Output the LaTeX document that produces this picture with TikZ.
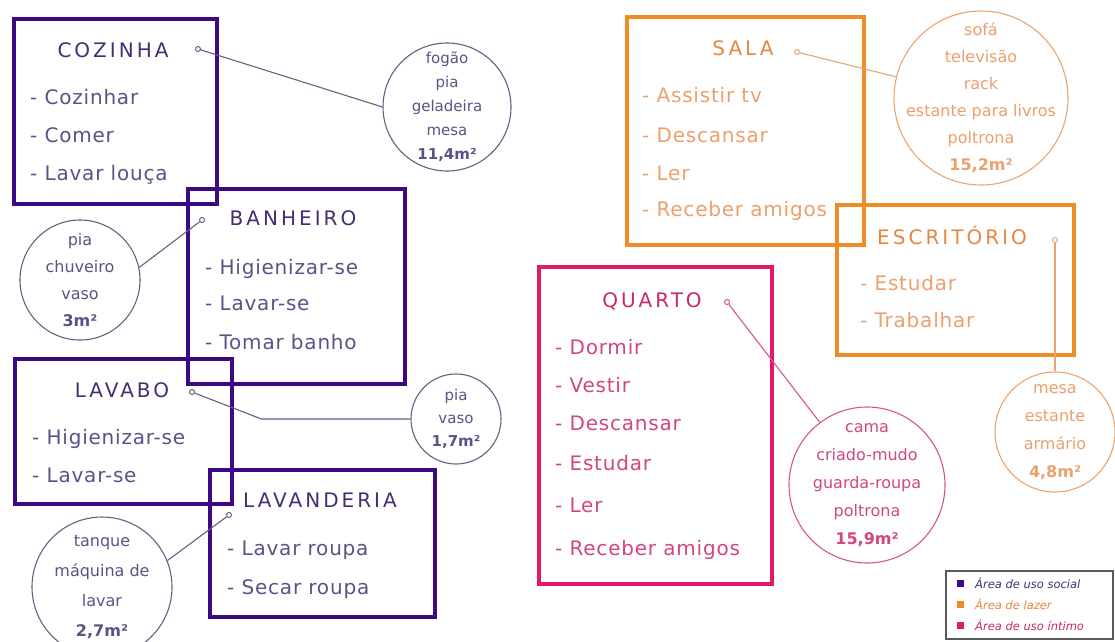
\documentclass[tikz,border=0pt]{standalone}
\usepackage{fontspec}
\setmainfont{DejaVu Sans}
\newfontfamily\ttlfont{DejaVu Sans}[LetterSpace=15]
\newfontfamily\itmfont{DejaVu Sans}[LetterSpace=4]
\usetikzlibrary{calc}
\definecolor{pbox}{RGB}{60,10,130}
\definecolor{ptitle}{RGB}{70,45,115}
\definecolor{pitem}{RGB}{95,80,135}
\definecolor{pline}{RGB}{105,95,130}
\definecolor{obox}{RGB}{240,140,40}
\definecolor{otitle}{RGB}{230,135,65}
\definecolor{oitem}{RGB}{236,160,110}
\definecolor{oline}{RGB}{236,165,110}
\definecolor{kbox}{RGB}{225,25,105}
\definecolor{ktitle}{RGB}{200,40,110}
\definecolor{kitem}{RGB}{210,70,130}
\definecolor{kline}{RGB}{215,85,140}
\definecolor{legline}{RGB}{90,90,90}
\begin{document}
\begin{tikzpicture}[x=1pt,y=-1pt,
  roombox/.style={draw, line width=3.5pt, anchor=north west, inner sep=0},
  ttl/.style={anchor=base, inner sep=0, font=\ttlfont\fontsize{20}{24}\selectfont},
  itm/.style={anchor=base west, inner sep=0, font=\itmfont\fontsize{20}{24}\selectfont},
  dotnode/.style={circle, draw, fill=white, line width=1pt, minimum size=5pt, inner sep=0},
  furn/.style={circle, draw, line width=1.1pt, inner sep=0},
  furntext/.style={align=center, inner sep=0, font=\fontsize{16}{27}\selectfont},
  link/.style={line width=1.1pt},
  legsq/.style={minimum size=7pt, inner sep=0},
  legtext/.style={anchor=west, inner sep=0, font=\itshape\fontsize{11.5}{13}\selectfont}
]
\useasboundingbox (0,0) rectangle (1115,641);
\fill[white] (0,0) rectangle (1115,641);

% ---------- purple rooms ----------
\node[roombox, draw=pbox, minimum width=203pt, minimum height=185pt] (cozbox) at (12,17) {};
\node[ttl, text=ptitle] (cozt) at (113,57) {COZINHA};
\node[itm, text=pitem] (coz1) at (30,104) {- Cozinhar};
\node[itm, text=pitem] (coz2) at (30,142) {- Comer};
\node[itm, text=pitem] (coz3) at (30,180) {- Lavar louça};

\node[roombox, draw=pbox, minimum width=217pt, minimum height=195pt] (banbox) at (186,187) {};
\node[ttl, text=ptitle] (bant) at (293,225) {BANHEIRO};
\node[itm, text=pitem] (ban1) at (205,274) {- Higienizar-se};
\node[itm, text=pitem] (ban2) at (205,310) {- Lavar-se};
\node[itm, text=pitem] (ban3) at (205,349) {- Tomar banho};

\node[roombox, draw=pbox, minimum width=217pt, minimum height=145pt] (lavbox) at (13,357) {};
\node[ttl, text=ptitle] (lavt) at (122,397) {LAVABO};
\node[itm, text=pitem] (lav1) at (32,444) {- Higienizar-se};
\node[itm, text=pitem] (lav2) at (32,482) {- Lavar-se};

\node[roombox, draw=pbox, minimum width=225pt, minimum height=147pt] (ldrbox) at (208,468) {};
\node[ttl, text=ptitle] (ldrt) at (320,507) {LAVANDERIA};
\node[itm, text=pitem] (ldr1) at (227,555) {- Lavar roupa};
\node[itm, text=pitem] (ldr2) at (227,594) {- Secar roupa};

% ---------- orange rooms ----------
\node[roombox, draw=obox, minimum width=237pt, minimum height=228pt] (salbox) at (625,15) {};
\node[ttl, text=otitle] (salt) at (743,55) {SALA};
\node[itm, text=oitem] (sal1) at (642,102) {- Assistir tv};
\node[itm, text=oitem] (sal2) at (642,142) {- Descansar};
\node[itm, text=oitem] (sal3) at (642,180) {- Ler};
\node[itm, text=oitem] (sal4) at (642,216) {- Receber amigos};

\node[roombox, draw=obox, minimum width=237pt, minimum height=150pt] (escbox) at (835,203) {};
\node[ttl, text=otitle] (esct) at (952,244) {ESCRITÓRIO};
\node[itm, text=oitem] (esc1) at (860,290) {- Estudar};
\node[itm, text=oitem] (esc2) at (860,327) {- Trabalhar};

% ---------- pink room ----------
\node[roombox, draw=kbox, minimum width=233pt, minimum height=317pt] (quabox) at (537,265) {};
\node[ttl, text=ktitle] (quat) at (652,307) {QUARTO};
\node[itm, text=kitem] (qua1) at (555,354) {- Dormir};
\node[itm, text=kitem] (qua2) at (555,392) {- Vestir};
\node[itm, text=kitem] (qua3) at (555,430) {- Descansar};
\node[itm, text=kitem] (qua4) at (555,470) {- Estudar};
\node[itm, text=kitem] (qua5) at (555,512) {- Ler};
\node[itm, text=kitem] (qua6) at (555,555) {- Receber amigos};

% ---------- furniture circles ----------
\node[furn, draw=pline, minimum size=128pt] (fog) at (447,107) {};
\node[furntext, text=pitem, font=\fontsize{15}{24}\selectfont] (fogt) at (fog) {fogão\\pia\\geladeira\\mesa\\{\bfseries 11,4m²}};

\node[furn, draw=pline, minimum size=120pt] (banc) at (80,280) {};
\node[furntext, text=pitem] (banct) at (banc) {pia\\chuveiro\\vaso\\{\bfseries 3m²}};

\node[furn, draw=pline, minimum size=90pt] (lavc) at (456,419) {};
\node[furntext, text=pitem, font=\fontsize{15}{23}\selectfont] (lavct) at (lavc) {pia\\vaso\\{\bfseries 1,7m²}};

\node[furn, draw=pline, minimum size=140pt] (tanc) at (102,587) {};
\node[furntext, text=pitem, font=\fontsize{16}{30}\selectfont] (tanct) at (tanc) {tanque\\máquina de\\lavar\\{\bfseries 2,7m²}};

\node[furn, draw=oline, minimum size=174pt] (sofa) at (981,98) {};
\node[furntext, text=oitem] (sofat) at (sofa) {sofá\\televisão\\rack\\estante para livros\\poltrona\\{\bfseries 15,2m²}};

\node[furn, draw=oline, minimum size=120pt] (mesc) at (1055,432) {};
\node[furntext, text=oitem, font=\fontsize{16}{28}\selectfont] (mesct) at (mesc) {mesa\\estante\\armário\\{\bfseries 4,8m²}};

\node[furn, draw=kline, minimum size=156pt] (camc) at (867,485) {};
\node[furntext, text=kitem, font=\fontsize{16}{28}\selectfont] (camct) at (camc) {cama\\criado-mudo\\guarda-roupa\\poltrona\\{\bfseries 15,9m²}};

% ---------- dots ----------
\node[dotnode, draw=pline] (cozd) at (198,49) {};
\node[dotnode, draw=pline] (band) at (202,220) {};
\node[dotnode, draw=pline] (lavd) at (192,392) {};
\node[dotnode, draw=pline] (ldrd) at (229,515) {};
\node[dotnode, draw=oline] (sald) at (797,52) {};
\node[dotnode, draw=oline] (escd) at (1055,240) {};
\node[dotnode, draw=kline] (quad) at (727,302) {};

% ---------- connectors ----------
\draw[link, pline] (cozd) -- (fog.180);
\draw[link, pline] (band) -- (banc.12);
\draw[link, pline] (lavd) -- ($(lavc.west)+(-149,0)$) -- (lavc.west);
\draw[link, pline] (ldrd) -- (tanc.22);
\draw[link, oline] (sald) -- (sofa.166);
\draw[link, oline] (escd) -- (mesc.north);
\draw[link, kline] (quad) -- (camc.127);

% ---------- legend ----------
\node[draw=legline, line width=1.5pt, anchor=north west, minimum width=167pt, minimum height=68pt, inner sep=0] (leg) at (945,570) {};
\node[legsq, fill=pbox] (lsq1) at (960,583) {};
\node[legsq, fill=obox] (lsq2) at (960,604) {};
\node[legsq, fill=kbox] (lsq3) at (960,625) {};
\node[legtext, text=ptitle] (lt1) at (975,583) {Área de uso social};
\node[legtext, text=otitle] (lt2) at (975,604) {Área de lazer};
\node[legtext, text=ktitle] (lt3) at (975,625) {Área de uso íntimo};
\end{tikzpicture}
\end{document}
